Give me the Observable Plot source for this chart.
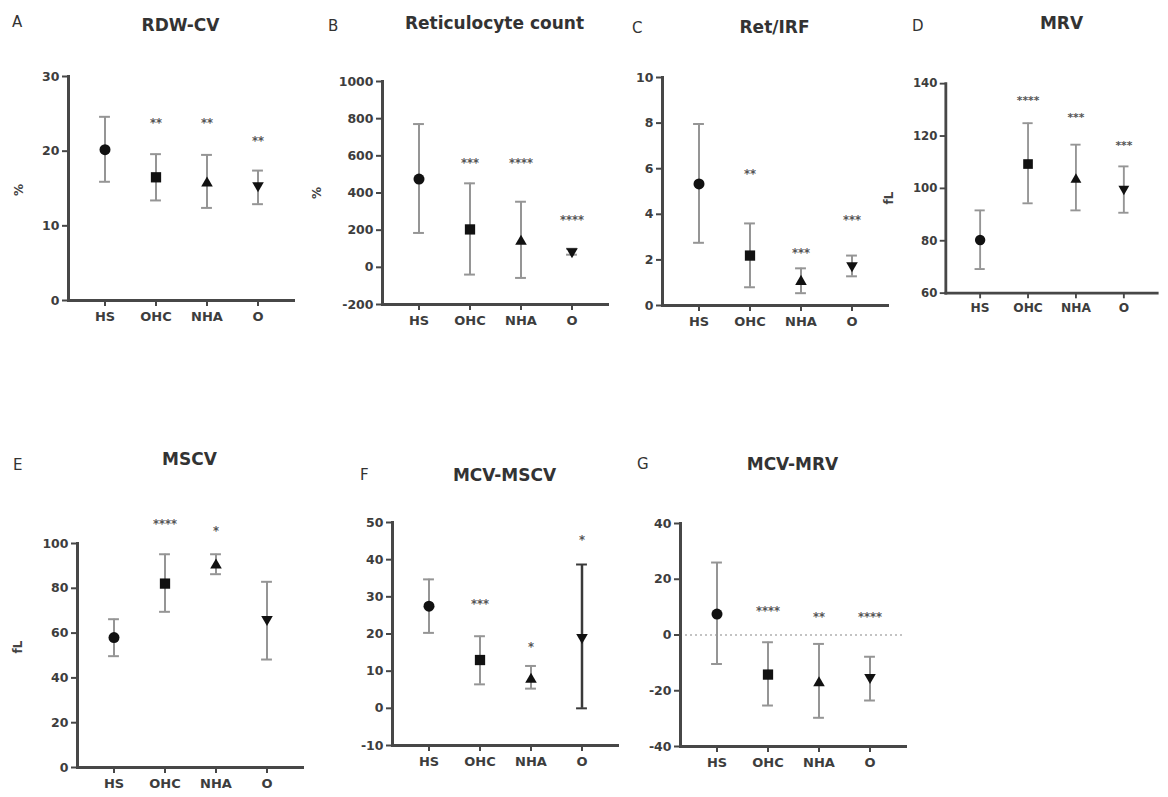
<!DOCTYPE html>
<html>
<head>
<meta charset="utf-8">
<script src="https://cdn.jsdelivr.net/npm/d3@7"></script>
<script src="https://cdn.jsdelivr.net/npm/@observablehq/plot@0.6"></script>
<style>
  html, body { margin: 0; padding: 0; background: #fff; }
  #root { position: relative; width: 1168px; height: 797px; overflow: hidden; background: #fff; }
  .panel { position: absolute; }
  .title { position: absolute; font-family: "DejaVu Sans", sans-serif; font-weight: bold; font-size: 17px; color: #333; transform: translate(-50%, -50%); white-space: nowrap; }
  .letter { position: absolute; font-family: "DejaVu Sans", sans-serif; font-size: 15px; color: #333; transform: translateY(-50%); }
  .ylab { position: absolute; font-family: "DejaVu Sans", sans-serif; font-weight: bold; font-size: 12px; color: #444; transform: translate(-50%, -50%) rotate(-90deg); white-space: nowrap; }
</style>
</head>
<body>
<div id="root"></div>
<script>
// ---- data ----
const groups = ["HS", "OHC", "NHA", "O"];

const rdwMean = [20.2, 16.5, 15.7, 15.4];
const rdwLo   = [15.9, 13.4, 12.4, 12.9];
const rdwHi   = [24.6, 19.6, 19.5, 17.4];
const rdwStars = ["", "**", "**", "**"];
const rdwStarY = [null, 24.3, 24.3, 21.8];
const rdwTicks = [0, 10, 20, 30];

const retMean = [475, 204, 140, 85];
const retLo   = [185, -39, -57, 68];
const retHi   = [771, 452, 353, 100];
const retStars = ["", "***", "****", "****"];
const retStarY = [null, 583, 583, 272];
const retTicks = [-200, 0, 200, 400, 600, 800, 1000];

const irfMean = [5.33, 2.19, 1.05, 1.75];
const irfLo   = [2.75, 0.8, 0.54, 1.28];
const irfHi   = [7.96, 3.6, 1.63, 2.19];
const irfStars = ["", "**", "***", "***"];
const irfStarY = [null, 5.94, 2.48, 3.9];
const irfTicks = [0, 2, 4, 6, 8, 10];

const mrvMean = [80.3, 109.3, 103.4, 99.8];
const mrvLo   = [69.2, 94.3, 91.6, 90.7];
const mrvHi   = [91.6, 124.9, 116.7, 108.4];
const mrvStars = ["", "****", "***", "***"];
const mrvStarY = [null, 135, 128.5, 117.7];
const mrvTicks = [60, 80, 100, 120, 140];

const mscvMean = [58.0, 82.1, 90.3, 66.1];
const mscvLo   = [49.7, 69.5, 86.3, 48.2];
const mscvHi   = [66.2, 95.2, 95.2, 82.9];
const mscvStars = ["", "****", "*", ""];
const mscvStarY = [null, 110.4, 107.4, null];
const mscvTicks = [0, 20, 40, 60, 80, 100];

const dmscvMean = [27.5, 13.0, 7.8, 19.1];
const dmscvLo   = [20.3, 6.45, 5.3, 0];
const dmscvHi   = [34.7, 19.4, 11.4, 38.7];
const dmscvStars = ["", "***", "*", "*"];
const dmscvStarY = [null, 29.1, 17.5, 46.4];
const dmscvTicks = [-10, 0, 10, 20, 30, 40, 50];

const dmrvMean = [7.5, -14.2, -17.2, -15.2];
const dmrvLo   = [-10.4, -25.3, -29.7, -23.5];
const dmrvHi   = [26.0, -2.6, -3.2, -7.8];
const dmrvStars = ["", "****", "**", "****"];
const dmrvStarY = [null, 9.9, 7.9, 7.9];
const dmrvTicks = [-40, -20, 0, 20, 40];

// ---- layout (styles/positions kept separate) ----
const panels = [
  {letter: "A", title: "RDW-CV", ylab: "%", mean: rdwMean, lo: rdwLo, hi: rdwHi, stars: rdwStars, starY: rdwStarY, ticks: rdwTicks,
   x0: 68, yTop: 76, yBot: 300, titleY: 25, letterX: 12, letterY: 22, ylabX: 19, ylabY: 190},
  {letter: "B", title: "Reticulocyte count", ylab: "%", mean: retMean, lo: retLo, hi: retHi, stars: retStars, starY: retStarY, ticks: retTicks,
   x0: 382, yTop: 81, yBot: 304, titleY: 23, letterX: 328, letterY: 26, ylabX: 317, ylabY: 193},
  {letter: "C", title: "Ret/IRF", ylab: "", mean: irfMean, lo: irfLo, hi: irfHi, stars: irfStars, starY: irfStarY, ticks: irfTicks,
   x0: 662, yTop: 77, yBot: 305, titleY: 27, letterX: 632, letterY: 28},
  {letter: "D", title: "MRV", ylab: "fL", mean: mrvMean, lo: mrvLo, hi: mrvHi, stars: mrvStars, starY: mrvStarY, ticks: mrvTicks,
   x0: 949, yTop: 85, yBot: 308, titleY: 23, letterX: 912, letterY: 26, ylabX: 889, ylabY: 198},
  {letter: "E", title: "MSCV", ylab: "fL", mean: mscvMean, lo: mscvLo, hi: mscvHi, stars: mscvStars, starY: mscvStarY, ticks: mscvTicks,
   x0: 77, yTop: 543, yBot: 767, titleY: 459, letterX: 13, letterY: 465, ylabX: 18, ylabY: 647},
  {letter: "F", title: "MCV-MSCV", ylab: "", mean: dmscvMean, lo: dmscvLo, hi: dmscvHi, stars: dmscvStars, starY: dmscvStarY, ticks: dmscvTicks,
   x0: 392, yTop: 522, yBot: 745, titleY: 475, letterX: 360, letterY: 475, darkBar: "O"},
  {letter: "G", title: "MCV-MRV", ylab: "", mean: dmrvMean, lo: dmrvLo, hi: dmrvHi, stars: dmrvStars, starY: dmrvStarY, ticks: dmrvTicks,
   x0: 680, yTop: 523, yBot: 746, titleY: 464, letterX: 637, letterY: 464, zeroLine: true}
];

const PW = 225, ML = 60, MR = 12, MT = 30, MB = 40;
const axisColor = "#474747";
const barColor = "#959595";

const triDown = {
  draw(context, size) {
    const s3 = Math.sqrt(3);
    const y = -Math.sqrt(size / (s3 * 3));
    context.moveTo(0, -y * 2);
    context.lineTo(-s3 * y, y);
    context.lineTo(s3 * y, y);
    context.closePath();
  }
};
const symbols = {HS: "circle", OHC: "square", NHA: "triangle", O: triDown};
const radii = {HS: 5.5, OHC: 5.8, NHA: 4.3, O: 4.3};

const root = document.getElementById("root");

for (const p of panels) {
  const rows = groups.map((g, i) => ({g, mean: p.mean[i], lo: p.lo[i], hi: p.hi[i], star: p.stars[i], starY: p.starY[i]}));
  const starRows = rows.filter(d => d.star && d.starY != null);
  const h = p.yBot - p.yTop;
  const step = PW / 4.4;
  const inset = (step - 11) / 2;
  const domain = [p.ticks[0], p.ticks[p.ticks.length - 1]];
  const barStroke = d => (p.darkBar === d.g ? "#3a3a3a" : barColor);

  const marks = [];
  if (p.zeroLine) marks.push(Plot.ruleY([0], {stroke: "#b0b0b0", strokeWidth: 1.5, strokeDasharray: "2,3"}));
  marks.push(
    Plot.axisY({ticks: p.ticks, tickFormat: d => String(d), tickSize: 6, tickPadding: 3, label: null, stroke: axisColor, strokeWidth: 2,
      fill: "#3d3d3d", fontSize: 12.5, fontWeight: "bold"}),
    Plot.axisX({tickSize: 6, tickPadding: 5, label: null, stroke: axisColor, strokeWidth: 2,
      fill: "#3d3d3d", fontSize: 13, fontWeight: "bold"}),
    Plot.ruleX(rows, {x: "g", y1: "lo", y2: "hi", stroke: barStroke, strokeWidth: d => (p.darkBar === d.g ? 2.5 : 2)}),
    Plot.tickY(rows, {x: "g", y: "lo", insetLeft: inset, insetRight: inset, stroke: barStroke, strokeWidth: 2}),
    Plot.tickY(rows, {x: "g", y: "hi", insetLeft: inset, insetRight: inset, stroke: barStroke, strokeWidth: 2}),
    ...groups.map(g => Plot.dot(rows.filter(d => d.g === g), {x: "g", y: "mean", symbol: symbols[g], r: radii[g], fill: "#111", stroke: "none"})),
    Plot.text(starRows, {x: "g", y: "starY", text: "star", dy: 4, fontSize: 11.5, fontWeight: "bold", fill: "#555"}),
    Plot.frame({anchor: "left", stroke: axisColor, strokeWidth: 3}),
    Plot.frame({anchor: "bottom", stroke: axisColor, strokeWidth: 3})
  );

  const chart = Plot.plot({
    width: ML + PW + MR,
    height: MT + h + MB,
    marginLeft: ML, marginRight: MR, marginTop: MT, marginBottom: MB,
    style: {fontFamily: "DejaVu Sans, sans-serif", color: "#3d3d3d", background: "transparent", overflow: "visible"},
    x: {type: "band", domain: groups, paddingInner: 0, paddingOuter: 0.2, label: null},
    y: {domain, label: null},
    marks
  });

  const wrap = document.createElement("div");
  wrap.className = "panel";
  wrap.style.left = (p.x0 - ML) + "px";
  wrap.style.top = (p.yTop - MT) + "px";
  wrap.appendChild(chart);
  root.appendChild(wrap);

  const t = document.createElement("div");
  t.className = "title";
  t.textContent = p.title;
  t.style.left = (p.x0 + PW / 2) + "px";
  t.style.top = p.titleY + "px";
  root.appendChild(t);

  const l = document.createElement("div");
  l.className = "letter";
  l.textContent = p.letter;
  l.style.left = p.letterX + "px";
  l.style.top = p.letterY + "px";
  root.appendChild(l);

  if (p.ylab) {
    const y = document.createElement("div");
    y.className = "ylab";
    y.textContent = p.ylab;
    y.style.left = p.ylabX + "px";
    y.style.top = p.ylabY + "px";
    root.appendChild(y);
  }
}
</script>
</body>
</html>
